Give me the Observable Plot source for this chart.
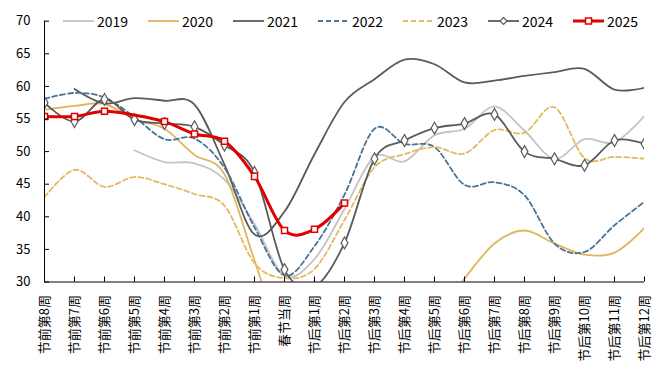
<!DOCTYPE html>
<html><head><meta charset="utf-8">
<script src="https://cdn.jsdelivr.net/npm/d3@7"></script>
<script src="https://cdn.jsdelivr.net/npm/@observablehq/plot@0.6"></script>
<style>
body{margin:0;background:#fff;font-family:"Noto Sans CJK SC","Noto Sans",sans-serif;}
#wrap{position:relative;width:671px;height:381px;}
#legend{position:absolute;top:12px;left:63px;display:flex;font-size:14px;color:#000;line-height:18px;}
.item{display:flex;align-items:center;width:85px;}
.item svg{margin-right:3px;}
</style></head><body><div id="wrap"><div id="legend"></div></div>
<script>
const weeks = ["节前第8周","节前第7周","节前第6周","节前第5周","节前第4周","节前第3周","节前第2周","节前第1周","春节当周",
  "节后第1周","节后第2周","节后第3周","节后第4周","节后第5周","节后第6周","节后第7周","节后第8周","节后第9周","节后第10周","节后第11周","节后第12周"];
const years = ["2019","2020","2021","2022","2023","2024","2025"];
const yTicks = [30,35,40,45,50,55,60,65,70];
const v2019 = [null,null,null,50.2,48.4,48.2,45.7,38.9,31.0,33.5,41.2,49.2,48.5,52.5,53.5,56.9,53.2,48.9,51.9,51.4,55.5];
const v2020 = [56.4,57.0,57.3,55.0,53.5,49.5,46.5,33.3,20,15,13,14,18,24,30.5,35.9,37.9,35.9,34.2,34.5,38.3];
const v2021 = [null,59.6,57.4,58.2,57.8,57.2,48.0,37.3,40.8,49.6,57.6,61.1,64.1,63.4,60.6,60.9,61.6,62.2,62.7,59.5,59.8];
const v2022 = [58.1,59.0,58.3,55.3,51.9,52.0,47.5,38.4,31.0,35.5,43.4,53.5,51.2,50.7,44.9,45.3,43.3,35.9,34.6,38.7,42.3];
const v2023 = [43.0,47.2,44.6,46.1,45.0,43.5,41.7,32.9,30.6,32.0,39.5,47.6,49.6,50.7,49.7,53.3,52.9,56.8,49.0,49.2,48.9];
const v2024 = [57.5,54.6,58.0,54.9,54.3,53.8,51.0,46.8,31.9,29.3,36.0,48.9,51.7,53.6,54.3,55.7,50.0,48.9,47.9,51.7,51.2];
const v2025 = [55.4,55.4,56.2,55.6,54.6,52.7,51.6,46.2,37.9,38.1,42.1,null,null,null,null,null,null,null,null,null,null];
const hiddenMarkers2025 = ["节前第5周"];
const values = {"2019":v2019,"2020":v2020,"2021":v2021,"2022":v2022,"2023":v2023,"2024":v2024,"2025":v2025};

const styles = {
  "2019": {stroke:"#c4c4c4", strokeWidth:1.8},
  "2020": {stroke:"#e1b45e", strokeWidth:1.8},
  "2021": {stroke:"#5b5b5b", strokeWidth:1.8},
  "2022": {stroke:"#4a7394", strokeWidth:1.8, strokeDasharray:"5,3"},
  "2023": {stroke:"#e5b962", strokeWidth:1.8, strokeDasharray:"5,3"},
  "2024": {stroke:"#5b5b5b", strokeWidth:1.8, symbol:"diamond", r:3.6, markerStroke:1.2},
  "2025": {stroke:"#e00000", strokeWidth:3, symbol:"square", r:3.4, markerStroke:1.5}
};

const rows = s => weeks.map((w,i)=>({week:w, value: values[s][i]}));

const W = 671, H = 381, mL = 44, mR = 27, mT = 20.7, mB = 99.5;
const plotW = W - mL - mR, plotH = H - mT - mB;
const FONT = '"Noto Sans CJK SC","Noto Sans",sans-serif';

const marks = [];
for (const s of years) {
  const st = styles[s];
  marks.push(Plot.line(rows(s), {x:"week", y:"value", stroke:st.stroke, strokeWidth:st.strokeWidth,
    strokeDasharray: st.strokeDasharray, curve:"cardinal", clip:true}));
  if (st.symbol) {
    const pts = rows(s).filter(d => d.value != null && !(s==="2025" && hiddenMarkers2025.includes(d.week)));
    marks.push(Plot.dot(pts, {x:"week", y:"value", symbol:st.symbol, r:st.r, fill:"white",
      stroke:st.stroke, strokeWidth:st.markerStroke, clip:true}));
  }
}

const chart = Plot.plot({
  width: W, height: H, marginLeft: mL, marginRight: mR, marginTop: mT, marginBottom: mB,
  style: {fontFamily: FONT, fontSize: "13px", color:"#000", background:"#fff"},
  x: {type:"point", domain: weeks, padding: 0, label: null},
  y: {domain: [30,70], label: null},
  marks: [
    Plot.axisY({ticks: yTicks, tickSize: 0, tickPadding: 14, fontSize: 13, label: null}),
    Plot.axisX({tickRotate: -90, tickSize: 0, tickPadding: 13, fontSize: 13, label: null}),
    ...marks,
    Plot.tickY(yTicks, {y: d => d, insetRight: plotW - 5, stroke:"#000", strokeWidth:1}),
    Plot.tickX(weeks, {x: d => d, insetTop: plotH - 5, stroke:"#000", strokeWidth:1}),
    Plot.ruleX([weeks[0]], {stroke:"#000", strokeWidth:1}),
    Plot.ruleY([30], {stroke:"#000", strokeWidth:1})
  ]
});
document.getElementById("wrap").appendChild(chart);

const legend = document.getElementById("legend");
for (const s of years) {
  const st = styles[s];
  const item = document.createElement("div");
  item.className = "item";
  let sym = "";
  if (st.symbol === "diamond") sym = `<path d="M15.5,3.5 L19,7 L15.5,10.5 L12,7 Z" fill="white" stroke="${st.stroke}" stroke-width="1.2"/>`;
  if (st.symbol === "square") sym = `<rect x="12.5" y="4" width="6" height="6" fill="white" stroke="${st.stroke}" stroke-width="1.5"/>`;
  item.innerHTML = `<svg width="31" height="14"><line x1="0" x2="31" y1="7" y2="7" stroke="${st.stroke}" stroke-width="${st.strokeWidth}" ${st.strokeDasharray ? `stroke-dasharray="${st.strokeDasharray}"` : ""}/>${sym}</svg><span>${s}</span>`;
  legend.appendChild(item);
}
</script>
</body></html>
